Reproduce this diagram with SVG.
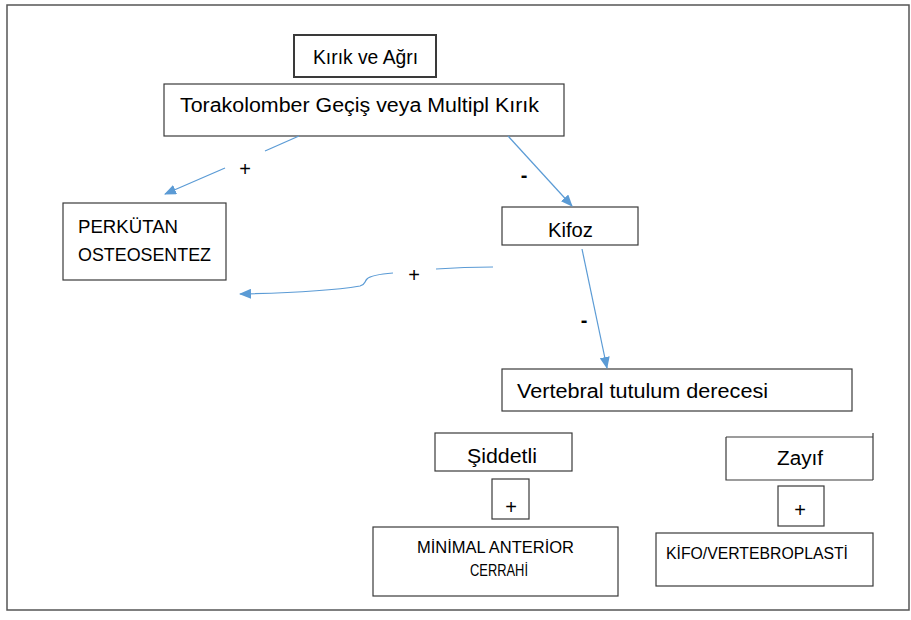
<svg xmlns="http://www.w3.org/2000/svg" width="911" height="620" viewBox="0 0 911 620">
  <style>
    .box { fill: #ffffff; stroke: #3a3a3a; stroke-width: 1.2; }
    .txt { font-family: "Liberation Sans", "DejaVu Sans", sans-serif; fill: #000000; }
    .lbl { font-family: "Liberation Sans", "DejaVu Sans", sans-serif; fill: #000000; font-size: 20px; text-anchor: middle; }
    .link { fill: none; stroke: #5b9bd5; stroke-width: 1.2; }
  </style>
  <defs>
    <marker id="arrow" viewBox="0 0 12 10" refX="11" refY="5" markerWidth="12" markerHeight="10" markerUnits="userSpaceOnUse" orient="auto">
      <path d="M0,0 L12,5 L0,10 Z" fill="#5b9bd5"/>
    </marker>
  </defs>

  <rect width="911" height="620" fill="#ffffff"/>
  <!-- outer frame -->
  <rect x="7" y="5" width="902" height="605" fill="none" stroke="#555555" stroke-width="1.5"/>

  <g id="kirik-agri">
    <rect class="box" x="294" y="35" width="142" height="42" style="stroke-width:2"/>
    <text class="txt" x="313" y="64" font-size="20" textLength="105" lengthAdjust="spacingAndGlyphs">Kırık ve Ağrı</text>
  </g>

  <g id="torakolomber">
    <rect class="box" x="164" y="84" width="400" height="52"/>
    <text class="txt" x="180" y="112" font-size="20" textLength="359" lengthAdjust="spacingAndGlyphs">Torakolomber Geçiş veya Multipl Kırık</text>
  </g>

  <g id="perkutan">
    <rect class="box" x="63" y="203" width="163" height="77"/>
    <text class="txt" x="78" y="233" font-size="19" textLength="100" lengthAdjust="spacingAndGlyphs">PERKÜTAN</text>
    <text class="txt" x="78" y="261" font-size="19" textLength="133" lengthAdjust="spacingAndGlyphs">OSTEOSENTEZ</text>
  </g>

  <g id="kifoz">
    <rect class="box" x="502" y="207" width="136" height="38"/>
    <text class="txt" x="548" y="237" font-size="20" textLength="45" lengthAdjust="spacingAndGlyphs">Kifoz</text>
  </g>

  <g id="vertebral">
    <rect class="box" x="502" y="369" width="350" height="42"/>
    <text class="txt" x="517" y="398" font-size="20" textLength="251" lengthAdjust="spacingAndGlyphs">Vertebral tutulum derecesi</text>
  </g>

  <g id="siddetli">
    <rect class="box" x="435" y="433" width="137" height="38"/>
    <text class="txt" x="467" y="463" font-size="20" textLength="70" lengthAdjust="spacingAndGlyphs">Şiddetli</text>
  </g>

  <g id="plus-left">
    <rect class="box" x="492" y="479" width="37" height="40"/>
    <text class="lbl" x="511" y="514">+</text>
  </g>

  <g id="minimal-anterior">
    <rect class="box" x="373" y="527" width="245" height="69"/>
    <text class="txt" x="417" y="553" font-size="16" textLength="157" lengthAdjust="spacingAndGlyphs">MİNİMAL ANTERİOR</text>
    <text class="txt" x="470" y="576" font-size="16" textLength="58" lengthAdjust="spacingAndGlyphs">CERRAHİ</text>
  </g>

  <g id="zayif">
    <rect x="726" y="437" width="147" height="43" fill="#ffffff"/>
    <path d="M726,437 H873 M726,437 V480 H873 M873,433 V480" fill="none" stroke="#3a3a3a" stroke-width="1.2"/>
    <text class="txt" x="777" y="465" font-size="20" textLength="46" lengthAdjust="spacingAndGlyphs">Zayıf</text>
  </g>

  <g id="plus-right">
    <rect class="box" x="778" y="486" width="46" height="40"/>
    <text class="lbl" x="800" y="517">+</text>
  </g>

  <g id="kifo-vertebroplasti">
    <rect class="box" x="656" y="533" width="217" height="53"/>
    <text class="txt" x="666" y="559" font-size="16" textLength="182" lengthAdjust="spacingAndGlyphs">KİFO/VERTEBROPLASTİ</text>
  </g>

  <g id="connectors">
    <!-- Torakolomber to Perkütan (+) -->
    <line class="link" x1="299" y1="136" x2="265" y2="151"/>
    <line class="link" x1="225" y1="168" x2="165" y2="194" marker-end="url(#arrow)"/>
    <!-- Torakolomber to Kifoz (-) -->
    <line class="link" x1="508" y1="136" x2="572" y2="206" marker-end="url(#arrow)"/>
    <!-- Kifoz back to Perkütan (+) -->
    <path class="link" d="M493,267 C470,267 450,268 436,269"/>
    <path class="link" d="M393,273 C380,274 370,276 367,279 C364,282 366,284 360,286 C330,291 290,293 240,294" marker-end="url(#arrow)"/>
    <!-- Kifoz to Vertebral tutulum (-) -->
    <line class="link" x1="582" y1="249" x2="607" y2="368" marker-end="url(#arrow)"/>

    <text class="lbl" x="245" y="176">+</text>
    <text class="lbl" x="524" y="182" style="font-weight:bold">-</text>
    <text class="lbl" x="414" y="282">+</text>
    <text class="lbl" x="584" y="327" style="font-weight:bold">-</text>
  </g>
</svg>
